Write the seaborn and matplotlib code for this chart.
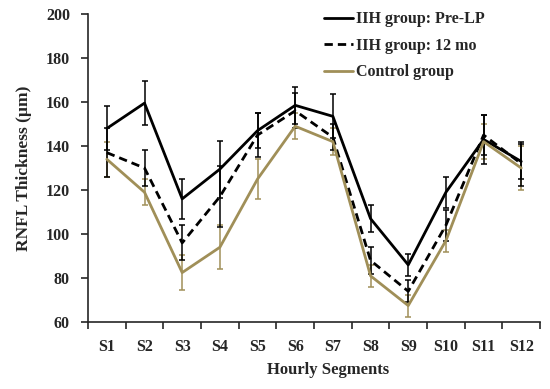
import numpy as np
import pandas as pd
import matplotlib
matplotlib.use('Agg')
import matplotlib.pyplot as plt
import seaborn as sns

# Data
segments = ['S1', 'S2', 'S3', 'S4', 'S5', 'S6', 'S7', 'S8', 'S9', 'S10', 'S11', 'S12']
pre_lp = [148, 159.5, 116, 129.5, 147, 158.5, 153.5, 107, 86, 119, 143, 133]
pre_lp_err = [10, 10, 9, 13, 8, 8.5, 10, 6, 5, 7, 11, 8]
mo12 = [137, 130, 96, 117, 145, 156, 144, 88, 74, 104, 145, 132]
mo12_err = [11, 8, 8, 14, 10, 8, 6, 6, 5, 7, 9, 10]
control = [134, 119, 82.5, 94, 125, 149, 142, 81, 67.5, 97, 142, 130]
control_err = [8, 6, 8, 10, 9, 6, 6, 5, 5, 5, 8, 10]

groups = ['IIH group: Pre-LP', 'IIH group: 12 mo', 'Control group']
gold = '#A08F58'

df = pd.DataFrame({
    'segment': segments * 3,
    'rnfl': pre_lp + mo12 + control,
    'group': [groups[0]] * 12 + [groups[1]] * 12 + [groups[2]] * 12,
})

sns.set_style('ticks')
plt.rcParams['font.family'] = ['Liberation Serif', 'DejaVu Serif']
plt.rcParams['font.weight'] = 'bold'

fig = plt.figure(figsize=(5.5, 3.89), dpi=100)
ax = fig.add_axes([0.16, 0.172, 0.822, 0.792])

x = np.arange(len(segments))
# error bars first so lines sit on top
ax.errorbar(x, control, yerr=control_err, fmt='none', ecolor=gold, elinewidth=1.1, capsize=2, capthick=1.1)
ax.errorbar(x, mo12, yerr=mo12_err, fmt='none', ecolor='black', elinewidth=1.1, capsize=2, capthick=1.1)
ax.errorbar(x, pre_lp, yerr=pre_lp_err, fmt='none', ecolor='black', elinewidth=1.1, capsize=2, capthick=1.1)

sns.lineplot(data=df, x='segment', y='rnfl', hue='group', style='group',
             palette={groups[0]: 'black', groups[1]: 'black', groups[2]: gold},
             dashes={groups[0]: '', groups[1]: (3, 1.8), groups[2]: ''},
             linewidth=2, ax=ax, sort=False)

ax.set_xlim(-0.5, 11.5)
ax.set_ylim(60, 200)
ax.set_yticks(range(60, 201, 20))
ax.set_xticks(x)
ax.set_xticklabels(segments)
ax.set_xticks(np.arange(-0.5, 12, 1), minor=True)
ax.tick_params(axis='x', which='major', length=0, pad=12, labelsize=11.5)
ax.tick_params(axis='x', which='minor', length=5, width=1.2, direction='out')
ax.tick_params(axis='y', length=5, width=1.2, labelsize=11.5, pad=8)
for lbl in ax.get_xticklabels() + ax.get_yticklabels():
    lbl.set_fontweight('bold')

sns.despine(ax=ax)
ax.spines['left'].set_linewidth(1.2)
ax.spines['bottom'].set_linewidth(1.2)

ax.set_xlabel('Hourly Segments', fontsize=12, fontweight='bold', labelpad=10)
ax.xaxis.set_label_coords(0.53, -0.13)
ax.set_ylabel('RNFL Thickness (µm)', fontsize=12.5, fontweight='bold', labelpad=10)

leg = ax.legend(loc='upper right', bbox_to_anchor=(0.91, 1.055), frameon=False,
                handlelength=1.8, handletextpad=0.2, labelspacing=0.65, fontsize=11.5)
for t in leg.get_texts():
    t.set_fontweight('bold')

fig.savefig('out.png', dpi=100)
